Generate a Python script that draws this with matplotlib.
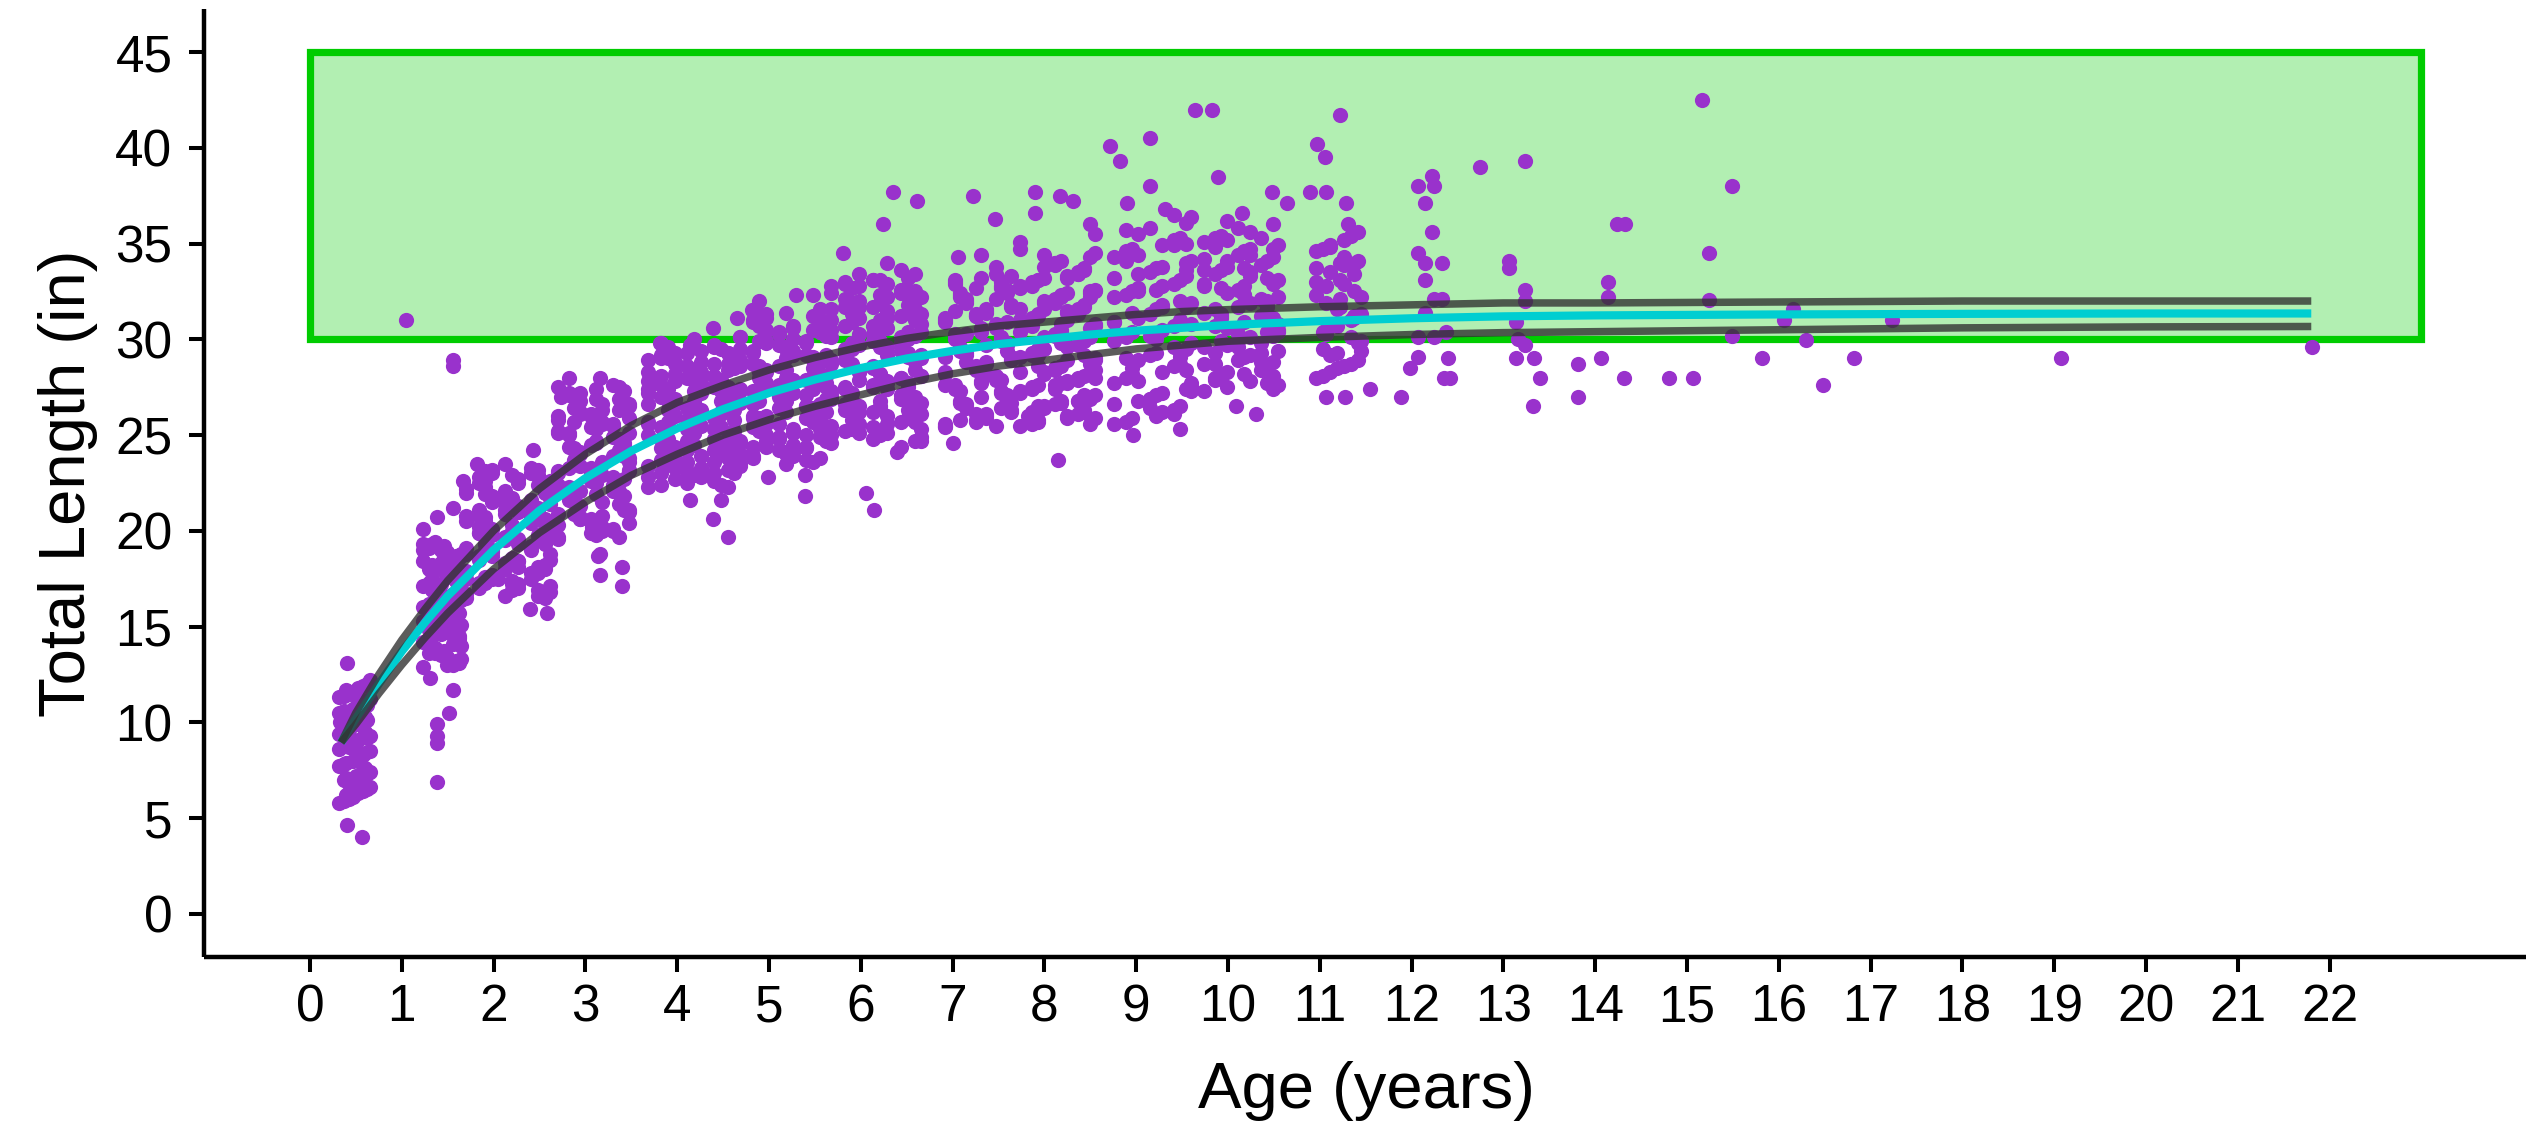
#!/usr/bin/env python3
"""
Length-at-age scatter with fitted growth curve and confidence band
"""
import matplotlib
matplotlib.use("Agg")
import matplotlib.pyplot as plt
from matplotlib.patches import Rectangle

# --- fitted curve ---
CURVE_AGE = [0.34, 0.5, 0.75, 1.0, 1.25, 1.5, 2.0, 2.5, 3.0, 3.5, 4.0, 4.5, 5.0, 5.5, 6.0,
             6.5, 7.0, 7.5, 8.0, 8.5, 9.0, 9.5, 10.0, 11.0, 12.0, 13.0, 14.0, 16.0, 18.0,
             20.0, 21.8]
CURVE_FIT = [8.95, 10.2, 12.0, 13.7, 15.2, 16.6, 19.0, 21.06, 22.75, 24.17, 25.35, 26.35,
             27.2, 27.9, 28.5, 29.0, 29.4, 29.75, 30.0, 30.25, 30.45, 30.6, 30.75, 30.95,
             31.1, 31.2, 31.25, 31.3, 31.33, 31.35, 31.35]
CURVE_UPPER = [8.95, 10.5, 12.5, 14.3, 15.9, 17.4, 20.0, 22.2, 24.0, 25.5, 26.7, 27.6,
               28.4, 29.05, 29.6, 30.05, 30.4, 30.7, 30.9, 31.1, 31.3, 31.45, 31.55, 31.7,
               31.8, 31.9, 31.9, 31.95, 32.0, 32.0, 32.0]
CURVE_LOWER = [8.95, 9.9, 11.5, 13.0, 14.4, 15.7, 18.0, 19.9, 21.5, 22.9, 24.0, 25.0,
               25.8, 26.5, 27.1, 27.7, 28.2, 28.6, 28.9, 29.2, 29.5, 29.7, 29.9, 30.1,
               30.25, 30.35, 30.4, 30.5, 30.6, 30.65, 30.67]

# --- target size box ---
BOX_AGE = (0, 23)
BOX_LEN = (30, 45)

# --- dense cohorts: age range of each cohort and the lengths in it ---
COHORT_LO = [0.32, 1.23, 1.70, 2.70, 3.68, 4.68, 5.68, 6.92, 7.74, 8.76, 9.74, 10.96]
COHORT_HI = [0.65, 1.65, 2.62, 3.48, 4.62, 5.62, 6.66, 7.64, 8.55, 9.60, 10.55, 11.45]
# where inside its cohort each fish sits (repeats along the list)
AGE_FRAC = [0.0, 0.62, 0.31, 0.93, 0.15, 0.77, 0.46, 1.0, 0.23, 0.85, 0.54]

LEN_AGE0 = [5.8, 6.3, 6.8, 7.3, 7.8, 8.3, 8.8, 9.3, 9.8, 10.3, 10.8, 11.3, 11.8,
            6.0, 6.5, 7.0, 7.5, 8.0, 8.5, 9.0, 9.5, 10.0, 10.5, 11.0, 11.5, 12.0,
            5.9, 6.4, 6.9, 7.4, 7.9, 8.4, 8.9, 9.4, 9.9, 10.4, 10.9, 11.4, 11.9,
            6.1, 6.6, 7.1, 7.6, 8.1, 8.6, 9.1, 9.6, 10.1, 10.6, 11.1, 11.6, 12.2,
            6.2, 6.7, 7.2, 7.7, 8.2, 8.7, 9.2, 9.7, 10.2, 10.7, 11.2, 11.7]
LEN_AGE1 = [12.9, 13.4, 13.9, 14.4, 14.9, 15.4, 15.9, 16.4, 16.9, 17.4, 17.9, 18.4, 18.9, 19.4,
            13.1, 13.6, 14.1, 14.6, 15.1, 15.6, 16.1, 16.6, 17.1, 17.6, 18.1, 18.6, 19.1,
            13.0, 13.5, 14.0, 14.5, 15.0, 15.5, 16.0, 16.5, 17.0, 17.5, 18.0, 18.5, 19.0,
            13.3, 13.8, 14.3, 14.8, 15.3, 15.8, 16.3, 16.8, 17.3, 17.8, 18.3, 18.8, 19.3,
            13.2, 13.7, 14.2, 14.7, 15.2, 15.7, 16.2, 16.7, 17.2, 17.7, 18.2, 18.7, 19.2, 20.1,
            13.0, 13.6, 14.2, 14.8, 15.4, 16.0, 16.6, 17.2, 17.8, 18.4, 19.0,
            13.3, 13.9, 14.5, 15.1, 15.7, 16.3, 16.9, 17.5, 18.1, 18.7, 19.3]
LEN_AGE2 = [16.5, 17.0, 17.5, 18.0, 18.5, 19.0, 19.5, 20.0, 20.5, 21.0, 21.5, 22.0, 22.5, 23.0,
            16.8, 17.3, 17.8, 18.3, 18.8, 19.3, 19.8, 20.3, 20.8, 21.3, 21.8, 22.3, 22.8, 23.3,
            16.6, 17.1, 17.6, 18.1, 18.6, 19.1, 19.6, 20.1, 20.6, 21.1, 21.6, 22.1, 22.6, 23.1,
            16.9, 17.4, 17.9, 18.4, 18.9, 19.4, 19.9, 20.4, 20.9, 21.4, 21.9, 22.4, 22.9,
            16.7, 17.2, 17.7, 18.2, 18.7, 19.2, 19.7, 20.2, 20.7, 21.2, 21.7, 22.2, 22.7, 23.2,
            16.5, 17.0, 17.5, 18.0, 18.5, 19.0, 19.5, 20.0, 20.5, 21.0, 21.5, 22.0, 22.5, 23.0, 23.5,
            16.8, 17.3, 17.8, 18.3, 18.8, 19.3, 19.8, 20.3, 20.8, 21.3, 21.8, 22.3, 22.8,
            16.6, 17.2, 17.8, 18.4, 19.0, 19.6, 20.2, 20.8, 21.4, 22.0, 22.6, 23.2,
            16.9, 17.5, 18.1, 18.7, 19.3, 19.9, 20.5, 21.1, 21.7, 22.3, 22.9]
LEN_AGE3 = [19.6, 20.1, 20.6, 21.1, 21.6, 22.1, 22.6, 23.1, 23.6, 24.1, 24.6, 25.1, 25.6, 26.1, 26.6, 27.1, 27.6,
            19.9, 20.4, 20.9, 21.4, 21.9, 22.4, 22.9, 23.4, 23.9, 24.4, 24.9, 25.4, 25.9, 26.4, 26.9, 27.4,
            19.7, 20.2, 20.7, 21.2, 21.7, 22.2, 22.7, 23.2, 23.7, 24.2, 24.7, 25.2, 25.7, 26.2, 26.7, 27.2,
            20.0, 20.5, 21.0, 21.5, 22.0, 22.5, 23.0, 23.5, 24.0, 24.5, 25.0, 25.5, 26.0, 26.5, 27.0, 27.5,
            19.8, 20.3, 20.8, 21.3, 21.8, 22.3, 22.8, 23.3, 23.8, 24.3, 24.8, 25.3, 25.8, 26.3, 26.8, 27.3, 28.0,
            20.1, 20.6, 21.1, 21.6, 22.1, 22.6, 23.1, 23.6, 24.1, 24.6, 25.1, 25.6, 26.1, 26.6, 27.1,
            19.7, 20.3, 20.9, 21.5, 22.1, 22.7, 23.3, 23.9, 24.5, 25.1, 25.7, 26.3, 26.9, 27.5,
            20.0, 20.6, 21.2, 21.8, 22.4, 23.0, 23.6, 24.2, 24.8, 25.4, 26.0, 26.6, 27.2]
LEN_AGE4 = [22.3, 22.8, 23.3, 23.8, 24.3, 24.8, 25.3, 25.8, 26.3, 26.8, 27.3, 27.8, 28.3, 28.8, 29.3, 29.8,
            22.6, 23.1, 23.6, 24.1, 24.6, 25.1, 25.6, 26.1, 26.6, 27.1, 27.6, 28.1, 28.6, 29.1, 29.6,
            22.4, 22.9, 23.4, 23.9, 24.4, 24.9, 25.4, 25.9, 26.4, 26.9, 27.4, 27.9, 28.4, 28.9, 29.4,
            22.7, 23.2, 23.7, 24.2, 24.7, 25.2, 25.7, 26.2, 26.7, 27.2, 27.7, 28.2, 28.7, 29.2, 29.7,
            22.5, 23.0, 23.5, 24.0, 24.5, 25.0, 25.5, 26.0, 26.5, 27.0, 27.5, 28.0, 28.5, 29.0, 29.5, 30.0,
            22.8, 23.3, 23.8, 24.3, 24.8, 25.3, 25.8, 26.3, 26.8, 27.3, 27.8, 28.3, 28.8, 29.3,
            22.3, 23.0, 23.6, 24.2, 24.9, 25.5, 26.1, 26.8, 27.4, 28.0, 28.7, 29.3,
            22.4, 23.0, 23.6, 24.2, 24.8, 25.4, 26.0, 26.6, 27.2, 27.8, 28.4, 29.0, 29.6,
            22.7, 23.3, 23.9, 24.5, 25.1, 25.7, 26.3, 26.9, 27.5, 28.1, 28.7, 29.3]
LEN_AGE5 = [23.4, 23.9, 24.4, 24.9, 25.4, 25.9, 26.4, 26.9, 27.4, 27.9, 28.4, 28.9, 29.4, 29.9, 30.4, 30.9,
            23.7, 24.2, 24.7, 25.2, 25.7, 26.2, 26.7, 27.2, 27.7, 28.2, 28.7, 29.2, 29.7, 30.2, 30.7, 31.2,
            23.5, 24.0, 24.5, 25.0, 25.5, 26.0, 26.5, 27.0, 27.5, 28.0, 28.5, 29.0, 29.5, 30.0, 30.5, 31.0,
            23.8, 24.3, 24.8, 25.3, 25.8, 26.3, 26.8, 27.3, 27.8, 28.3, 28.8, 29.3, 29.8, 30.3, 30.8, 31.3,
            23.6, 24.1, 24.6, 25.1, 25.6, 26.1, 26.6, 27.1, 27.6, 28.1, 28.6, 29.1, 29.6, 30.1, 30.6, 31.1, 31.6,
            23.9, 24.4, 24.9, 25.4, 25.9, 26.4, 26.9, 27.4, 27.9, 28.4, 28.9, 29.4, 29.9, 30.4, 30.9, 32.0, 32.3,
            24.0, 24.7, 25.3, 26.0, 26.6, 27.3, 27.9, 28.6, 29.2, 29.9, 30.5, 31.4,
            23.5, 24.1, 24.7, 25.3, 25.9, 26.5, 27.1, 27.7, 28.3, 28.9, 29.5, 30.1, 30.7, 31.3,
            23.8, 24.4, 25.0, 25.6, 26.2, 26.8, 27.4, 28.0, 28.6, 29.2, 29.8, 30.4, 31.0]
LEN_AGE6 = [24.6, 25.1, 25.6, 26.1, 26.6, 27.1, 27.6, 28.1, 28.6, 29.1, 29.6, 30.1, 30.6, 31.1, 31.6, 32.1, 32.6, 33.1,
            24.9, 25.4, 25.9, 26.4, 26.9, 27.4, 27.9, 28.4, 28.9, 29.4, 29.9, 30.4, 30.9, 31.4, 31.9, 32.4, 32.9, 33.4,
            24.7, 25.2, 25.7, 26.2, 26.7, 27.2, 27.7, 28.2, 28.7, 29.2, 29.7, 30.2, 30.7, 31.2, 31.7, 32.2, 32.7, 33.2,
            25.0, 25.5, 26.0, 26.5, 27.0, 27.5, 28.0, 28.5, 29.0, 29.5, 30.0, 30.5, 31.0, 31.5, 32.0, 32.5, 33.0, 33.6,
            24.8, 25.3, 25.8, 26.3, 26.8, 27.3, 27.8, 28.3, 28.8, 29.3, 29.8, 30.3, 30.8, 31.3, 31.8, 32.3, 32.8, 34.0,
            25.1, 25.7, 26.3, 26.9, 27.5, 28.1, 28.7, 29.3, 29.9, 30.5, 31.1, 31.7, 32.3, 32.9, 24.4,
            25.4, 26.1, 26.8, 27.5, 28.2, 28.9, 29.6, 30.3, 31.0, 31.7, 32.4, 33.1,
            24.7, 25.3, 25.9, 26.5, 27.1, 27.7, 28.3, 28.9, 29.5, 30.1, 30.7, 31.3, 31.9, 32.5, 33.1,
            25.0, 25.6, 26.2, 26.8, 27.4, 28.0, 28.6, 29.2, 29.8, 30.4, 31.0, 31.6, 32.2, 32.8, 33.4]
LEN_AGE7 = [25.4, 25.9, 26.4, 26.9, 27.4, 27.9, 28.4, 28.9, 29.4, 29.9, 30.4, 30.9, 31.4, 31.9, 32.4, 32.9, 33.4,
            25.7, 26.2, 26.7, 27.2, 27.7, 28.2, 28.7, 29.2, 29.7, 30.2, 30.7, 31.2, 31.7, 32.2, 32.7, 33.2,
            25.5, 26.0, 26.5, 27.0, 27.5, 28.0, 28.5, 29.0, 29.5, 30.0, 30.5, 31.0, 31.5, 32.0, 32.5, 33.0, 33.8,
            25.8, 26.3, 26.8, 27.3, 27.8, 28.3, 28.8, 29.3, 29.8, 30.3, 30.8, 31.3, 31.8, 32.3, 32.8, 34.4,
            25.6, 26.1, 26.6, 27.1, 27.6, 28.1, 28.6, 29.1, 29.6, 30.1, 30.6, 31.1, 31.6, 32.1, 32.6, 33.1,
            25.5, 26.1, 26.7, 27.3, 27.9, 28.5, 29.1, 29.7, 30.3, 30.9, 31.5, 32.1, 32.7, 33.3,
            25.8, 26.4, 27.0, 27.6, 28.2, 28.8, 29.4, 30.0, 30.6, 31.2, 31.8, 32.4, 33.0]
LEN_AGE8 = [25.5, 26.0, 26.5, 27.0, 27.5, 28.0, 28.5, 29.0, 29.5, 30.0, 30.5, 31.0, 31.5, 32.0, 32.5, 33.0, 33.5, 34.0, 34.5,
            25.8, 26.3, 26.8, 27.3, 27.8, 28.3, 28.8, 29.3, 29.8, 30.3, 30.8, 31.3, 31.8, 32.3, 32.8, 33.3, 33.8, 34.3,
            25.6, 26.1, 26.6, 27.1, 27.6, 28.1, 28.6, 29.1, 29.6, 30.1, 30.6, 31.1, 31.6, 32.1, 32.6, 33.1, 33.6, 34.1, 34.7,
            25.9, 26.4, 26.9, 27.4, 27.9, 28.4, 28.9, 29.4, 29.9, 30.4, 30.9, 31.4, 31.9, 32.4, 32.9, 33.4, 33.9, 35.5,
            25.7, 26.2, 26.7, 27.2, 27.7, 28.2, 28.7, 29.2, 29.7, 30.2, 30.7, 31.2, 31.7, 32.2, 32.7, 33.2, 34.4, 36.0,
            26.0, 26.8, 27.6, 28.4, 29.2, 30.0, 30.8, 31.6, 32.4, 33.2,
            25.6, 26.2, 26.8, 27.4, 28.0, 28.6, 29.2, 29.8, 30.4, 31.0, 31.6, 32.2, 32.8, 33.4, 34.0,
            25.9, 26.5, 27.1, 27.7, 28.3, 28.9, 29.5, 30.1, 30.7, 31.3, 31.9, 32.5, 33.1, 33.7]
LEN_AGE9 = [25.6, 26.2, 26.8, 27.4, 28.0, 28.6, 29.2, 29.8, 30.4, 31.0, 31.6, 32.2, 32.8, 33.4, 34.0, 34.6, 35.2, 35.8, 36.4,
            25.9, 26.5, 27.1, 27.7, 28.3, 28.9, 29.5, 30.1, 30.7, 31.3, 31.9, 32.5, 33.1, 33.7, 34.3, 34.9, 35.5, 36.1,
            25.7, 26.3, 26.9, 27.5, 28.1, 28.7, 29.3, 29.9, 30.5, 31.1, 31.7, 32.3, 32.9, 33.5, 34.1, 34.7, 35.3,
            26.0, 26.6, 27.2, 27.8, 28.4, 29.0, 29.6, 30.2, 30.8, 31.4, 32.0, 32.6, 33.2, 33.8, 34.4, 35.0, 35.7, 36.5,
            26.4, 27.3, 28.2, 29.1, 30.0, 30.9, 31.8, 32.7, 33.6, 34.5,
            26.1, 26.9, 27.7, 28.5, 29.3, 30.1, 30.9, 31.7, 32.5, 33.3, 34.1, 34.9]
LEN_AGE10 = [27.3, 27.8, 28.3, 28.8, 29.3, 29.8, 30.3, 30.8, 31.3, 31.8, 32.3, 32.8, 33.3, 33.8, 34.3, 34.8, 35.3, 35.8,
             27.6, 28.1, 28.6, 29.1, 29.6, 30.1, 30.6, 31.1, 31.6, 32.1, 32.6, 33.1, 33.6, 34.1, 34.6, 35.1, 35.6, 36.2,
             27.4, 27.9, 28.4, 28.9, 29.4, 29.9, 30.4, 30.9, 31.4, 31.9, 32.4, 32.9, 33.4, 33.9, 34.4, 34.9, 35.4,
             27.7, 28.2, 28.7, 29.2, 29.7, 30.2, 30.7, 31.2, 31.7, 32.2, 32.7, 33.2, 33.7, 34.2, 34.7, 35.2, 36.0,
             28.0, 28.8, 29.6, 30.4, 31.2, 32.0, 32.8, 33.6, 34.4,
             27.5, 28.1, 28.7, 29.3, 29.9, 30.5, 31.1, 31.7, 32.3, 32.9, 33.5, 34.1, 34.7, 35.3]
LEN_AGE11 = [28.0, 28.6, 29.2, 29.8, 30.4, 31.0, 31.6, 32.2, 32.8, 33.4, 34.0, 34.6, 35.2,
             28.3, 28.9, 29.5, 30.1, 30.7, 31.3, 31.9, 32.5, 33.1, 33.7, 34.3, 34.9, 35.6,
             28.1, 28.7, 29.3, 29.9, 30.5, 31.1, 31.7, 32.3, 32.9, 33.5, 34.1, 34.7, 35.4,
             28.5, 29.4, 30.3, 31.2, 32.1, 33.0, 33.9, 34.8]

COHORT_LENGTHS = [LEN_AGE0, LEN_AGE1, LEN_AGE2, LEN_AGE3, LEN_AGE4, LEN_AGE5,
                  LEN_AGE6, LEN_AGE7, LEN_AGE8, LEN_AGE9, LEN_AGE10, LEN_AGE11]

# --- single fish (outliers and the sparse old ages) ---
SINGLE_AGE = [0.40, 0.33, 0.40, 0.57,
              1.05, 1.56, 1.56, 1.56, 1.38, 1.31, 1.56, 1.51, 1.38, 1.38, 1.38, 1.38,
              1.82, 1.67, 2.43, 2.40, 2.58, 2.05,
              3.16, 2.74, 3.07, 3.16, 3.16, 3.40, 3.40, 3.14,
              3.81, 4.14, 4.39, 4.14, 4.48, 4.39, 4.55,
              4.65, 4.81, 5.30, 4.81, 4.99, 5.39, 5.39,
              6.35, 6.61, 6.24, 5.81, 6.06, 6.14, 6.39,
              7.22, 7.46, 7.06, 7.00,
              7.90, 8.17, 7.90, 8.31, 7.73, 8.15, 7.82,
              8.71, 8.82, 9.15, 9.15, 8.90, 9.31, 8.97, 9.48, 9.64, 9.83,
              9.89, 10.48, 10.64, 10.15, 10.09, 10.31,
              11.22, 10.97, 11.06, 10.89, 11.07, 11.29, 11.31, 11.07, 11.28, 11.55, 11.38,
              12.22, 12.07, 12.24, 12.15, 12.22, 12.07, 12.15, 12.33, 12.15, 12.24, 12.33,
              12.15, 12.38, 12.07, 12.24, 12.07, 11.98, 12.40, 12.35, 12.42, 11.89, 12.75,
              13.24, 13.06, 13.06, 13.24, 13.24, 13.14, 13.16, 13.24, 13.14, 13.33, 13.40,
              13.32, 13.81, 13.81,
              14.06, 14.14, 14.14, 14.24, 14.32, 14.31, 14.80,
              15.06, 15.16, 15.24, 15.24, 15.49, 15.49, 15.82,
              16.06, 16.16, 16.30, 16.48, 16.82, 17.23, 19.07, 21.81]
SINGLE_LEN = [13.1, 10.0, 4.65, 4.0,
              31.0, 28.9, 28.6, 21.2, 20.7, 12.3, 11.7, 10.5, 9.9, 9.3, 8.9, 6.9,
              23.5, 22.6, 24.2, 15.9, 15.7, 17.5,
              28.0, 27.0, 20.2, 18.8, 17.7, 18.1, 17.1, 18.7,
              29.8, 29.7, 30.6, 21.6, 21.6, 20.6, 19.7,
              31.1, 31.55, 32.3, 24.0, 22.8, 22.9, 21.8,
              37.7, 37.2, 36.0, 34.5, 22.0, 21.1, 24.1,
              37.5, 36.3, 34.3, 24.6,
              37.7, 37.5, 36.6, 37.2, 35.1, 23.7, 26.0,
              40.1, 39.3, 40.5, 38.0, 37.1, 36.8, 25.0, 25.3, 42.0, 42.0,
              38.5, 37.7, 37.1, 36.6, 26.5, 26.1,
              41.7, 40.2, 39.5, 37.7, 37.7, 37.1, 36.0, 27.0, 27.0, 27.4, 34.0,
              38.55, 38.0, 38.0, 37.1, 35.6, 34.5, 34.0, 34.0, 33.1, 32.1, 32.1,
              31.4, 30.4, 30.1, 30.1, 29.1, 28.5, 29.0, 28.0, 28.0, 27.0, 39.0,
              39.3, 33.7, 34.1, 32.6, 32.0, 30.9, 30.0, 29.7, 29.0, 29.0, 28.0,
              26.5, 28.7, 27.0,
              29.0, 33.0, 32.2, 36.0, 36.0, 28.0, 28.0,
              28.0, 42.5, 34.5, 32.05, 38.0, 30.15, 29.0,
              31.0, 31.6, 29.97, 27.6, 29.0, 31.0, 29.0, 29.6]

X_TICKS = list(range(0, 23))
Y_TICKS = list(range(0, 46, 5))


def main():
    plt.rcParams['font.family'] = ['Liberation Sans', 'DejaVu Sans']

    fig = plt.figure(figsize=(25.26, 11.22), dpi=100)
    ax = fig.add_axes([0.0809, 0.1471, 0.9195, 0.8449])

    # target box
    ax.add_patch(Rectangle((BOX_AGE[0], BOX_LEN[0]), BOX_AGE[1] - BOX_AGE[0],
                           BOX_LEN[1] - BOX_LEN[0], facecolor='#00CC00', alpha=0.3,
                           edgecolor='none', zorder=1))
    ax.add_patch(Rectangle((BOX_AGE[0], BOX_LEN[0]), BOX_AGE[1] - BOX_AGE[0],
                           BOX_LEN[1] - BOX_LEN[0], facecolor='none',
                           edgecolor='#00CC00', linewidth=5.2, zorder=1.5))

    # observed fish
    ages, lengths = [], []
    for lo, hi, lens in zip(COHORT_LO, COHORT_HI, COHORT_LENGTHS):
        for i, L in enumerate(lens):
            ages.append(lo + AGE_FRAC[i % len(AGE_FRAC)] * (hi - lo))
            lengths.append(L)
    ages += SINGLE_AGE
    lengths += SINGLE_LEN
    ax.scatter(ages, lengths, s=120, color='#9932CC', linewidths=0, zorder=2)

    # fitted curve and bounds
    ax.plot(CURVE_AGE, CURVE_FIT, color='#00CED1', lw=5.9, solid_capstyle='butt', zorder=3)
    for band in (CURVE_UPPER, CURVE_LOWER):
        ax.plot(CURVE_AGE, band, color='#333333', alpha=0.8, lw=5.4,
                solid_capstyle='butt', zorder=4)

    ax.set_xlim(-1.15, 24.15)
    ax.set_ylim(-2.25, 47.25)
    ax.set_xticks(X_TICKS)
    ax.set_yticks(Y_TICKS)

    for side in ('top', 'right'):
        ax.spines[side].set_visible(False)
    for side in ('left', 'bottom'):
        ax.spines[side].set_linewidth(3.2)
        ax.spines[side].set_capstyle('butt')
    ax.tick_params(axis='both', length=11, width=2.9, labelsize=37, color='black')
    ax.tick_params(axis='x', pad=8)
    ax.tick_params(axis='y', pad=12)

    fig.text(0.5408, 0.0125, 'Age (years)', ha='center', va='baseline', fontsize=47)
    fig.text(0.027, 0.5695, 'Total Length (in)', ha='center', va='center',
             rotation=90, fontsize=47)

    fig.savefig('out.png', dpi=100)
    plt.close(fig)


if __name__ == "__main__":
    main()
